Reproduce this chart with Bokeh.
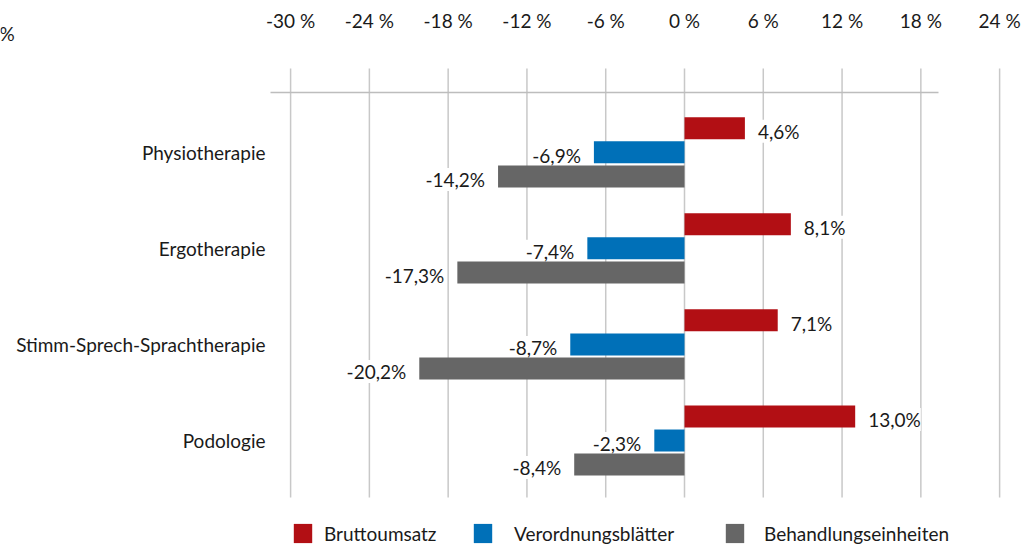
import numpy as np
from bokeh.plotting import figure
from bokeh.models import (ColumnDataSource, Range1d, FixedTicker, LabelSet, Label,
                          Legend, LegendItem, LinearAxis)
from bokeh.core.properties import value
from bokeh.embed import file_html
from bokeh.resources import INLINE

# ---------------- data ----------------
categories = ["Physiotherapie", "Ergotherapie", "Stimm-Sprech-Sprachtherapie", "Podologie"]
bruttoumsatz = [4.6, 8.1, 7.1, 13.0]
verordnungsblaetter = [-6.9, -7.4, -8.7, -2.3]
behandlungseinheiten = [-14.2, -17.3, -20.2, -8.4]
series_names = ["Bruttoumsatz", "Verordnungsblätter", "Behandlungseinheiten"]
series_colors = ["#b20f14", "#0070b8", "#666666"]
x_ticks = [-30, -24, -18, -12, -6, 0, 6, 12, 18, 24]
x_tick_labels = ["-30 %", "-24 %", "-18 %", "-12 %", "-6 %", "0 %", "6 %", "12 %", "18 %", "24 %"]

# ---------------- layout constants ----------------
W, H = 1022, 546
FONT = "Lato"
FS = "19px"
TXT = "#1a1a1a"
GRID = "#c8c8c8"
PX_PER_X = 13.13          # pixels per percentage point
PX_PER_Y = 96.07          # pixels per category
X0_PX, Y0_PX = 684, 151.8 # pixel position of x=0 and first category
X_START = -X0_PX / PX_PER_X
X_END = (W - X0_PX) / PX_PER_X
Y_TOP = -Y0_PX / PX_PER_Y
Y_BOTTOM = (H - Y0_PX) / PX_PER_Y
def ypx(py):
    return (py - Y0_PX) / PX_PER_Y
def xpx(px):
    return (px - X0_PX) / PX_PER_X
GRID_TOP, GRID_BOTTOM = ypx(68), ypx(497)
AXIS_LINE_Y = ypx(92)
AXIS_LINE_X0, AXIS_LINE_X1 = xpx(270), xpx(938)
XAXIS_Y = ypx(40)
YAXIS_X = xpx(270)
OFFSETS = [-0.251, 0.0, 0.251]
BAR_H = 0.229

p = figure(width=W, height=H, output_backend="svg", toolbar_location=None,
           x_range=Range1d(X_START, X_END), y_range=Range1d(Y_BOTTOM, Y_TOP),
           x_axis_location=None, y_axis_location=None,
           min_border=0, min_border_left=0, min_border_right=0,
           min_border_top=0, min_border_bottom=0)
p.outline_line_color = None
p.background_fill_color = "white"
p.border_fill_color = "white"
p.xgrid.visible = False
p.ygrid.visible = False

def style_axis(ax, standoff):
    ax.axis_line_color = None
    ax.major_tick_line_color = None
    ax.minor_tick_line_color = None
    ax.major_tick_out = 0
    ax.major_tick_in = 0
    ax.minor_tick_out = 0
    ax.minor_tick_in = 0
    ax.major_label_standoff = standoff
    ax.major_label_text_font = FONT
    ax.major_label_text_font_size = FS
    ax.major_label_text_color = TXT

# x axis on top
xa = LinearAxis(fixed_location=XAXIS_Y, ticker=FixedTicker(ticks=x_ticks))
xa.major_label_overrides = {t: l for t, l in zip(x_ticks, x_tick_labels)}
style_axis(xa, 9)
p.add_layout(xa, "above")

# y axis with category names
ya = LinearAxis(fixed_location=YAXIS_X, ticker=FixedTicker(ticks=list(range(len(categories)))))
ya.major_label_overrides = {i: c for i, c in enumerate(categories)}
style_axis(ya, 5)
p.add_layout(ya, "left")

# vertical grid lines at the x ticks
p.segment(x0=x_ticks, x1=x_ticks, y0=[GRID_TOP] * len(x_ticks), y1=[GRID_BOTTOM] * len(x_ticks),
          line_color=GRID, line_width=1.5, level="underlay")
# top category axis line
p.segment(x0=[AXIS_LINE_X0], x1=[AXIS_LINE_X1], y0=[AXIS_LINE_Y], y1=[AXIS_LINE_Y],
          line_color="#bdbdbd", line_width=1.5, level="underlay")

idx = np.arange(len(categories))
all_series = [bruttoumsatz, verordnungsblaetter, behandlungseinheiten]
renderers = []
pos = dict(x=[], y=[], text=[])
neg = dict(x=[], y=[], text=[])
for vals, off, col in zip(all_series, OFFSETS, series_colors):
    ys = idx + off
    src = ColumnDataSource(dict(y=ys, right=vals))
    r = p.hbar(y="y", right="right", left=0, height=BAR_H, source=src,
               fill_color=col, line_color=None)
    renderers.append(r)
    for v, yy in zip(vals, ys):
        d = pos if v >= 0 else neg
        d["x"].append(v)
        d["y"].append(yy)
        d["text"].append(f"{v:.1f}%".replace(".", ","))

common = dict(text_font=value(FONT), text_font_size=value(FS), text_color=TXT,
              text_baseline="middle", background_fill_color="white", y_offset=-3,
              level="underlay")
p.add_layout(LabelSet(x="x", y="y", text="text", source=ColumnDataSource(pos),
                      x_offset=13, text_align="left", **common))
p.add_layout(LabelSet(x="x", y="y", text="text", source=ColumnDataSource(neg),
                      x_offset=-13, text_align="right", **common))

# stray unit label at top-left
p.add_layout(Label(x=-1, y=H - 33, x_units="screen", y_units="screen", text="%",
                   text_font=FONT, text_font_size=FS, text_color=TXT, text_baseline="middle"))

# legends (one per entry so each can be placed)
leg_x = [291, 471, 723]
leg_standoff = [10, 20, 18]
for r, name, lx, so in zip(renderers, series_names, leg_x, leg_standoff):
    lg = Legend(items=[LegendItem(label=name, renderers=[r])], location=(lx, 1),
                orientation="horizontal", glyph_width=23, glyph_height=24,
                label_standoff=so, padding=0, margin=0, border_line_color=None,
                background_fill_alpha=0, label_text_font=FONT, label_text_font_size=FS,
                label_text_color=TXT)
    p.add_layout(lg, "center")

open("out.html", "w").write(file_html(p, INLINE))
